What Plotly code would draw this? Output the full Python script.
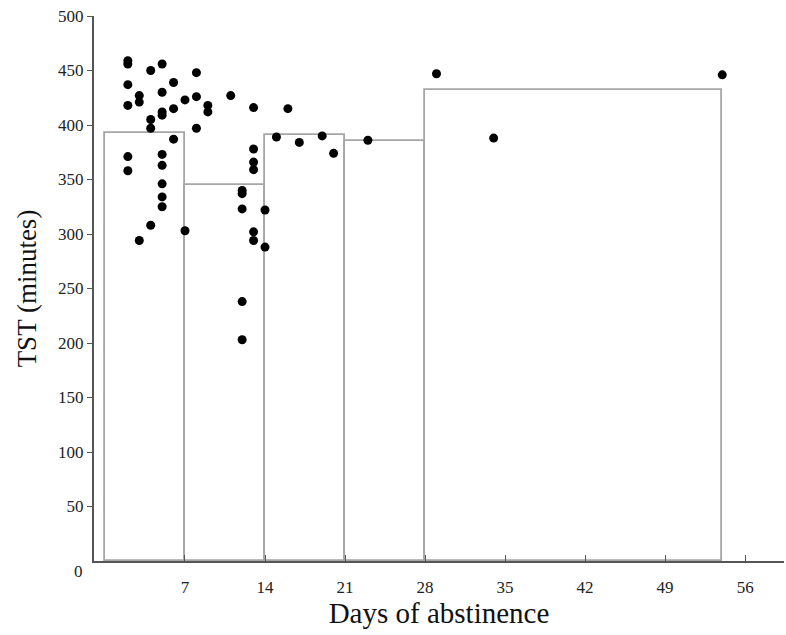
import plotly.graph_objects as go

# Scatter data: days of abstinence vs total sleep time (minutes)
days = [2, 2, 2, 2, 2, 2,
        3, 3, 3,
        4, 4, 4, 4,
        5, 5, 5, 5, 5, 5, 5, 5, 5,
        6, 6, 6,
        7, 7,
        8, 8, 8,
        9, 9,
        11,
        12, 12, 12, 12, 12,
        13, 13, 13, 13, 13, 13,
        14, 14,
        15, 16, 17, 19, 20, 23,
        29, 34, 54]
tst = [459, 456, 437, 418, 371, 358,
       427, 421, 294,
       450, 405, 397, 308,
       456, 430, 412, 409, 373, 363, 346, 334, 325,
       439, 415, 387,
       423, 303,
       448, 426, 397,
       418, 412,
       427,
       340, 337, 323, 238, 203,
       416, 378, 366, 359, 302, 294,
       322, 288,
       389, 415, 384, 390, 374, 386,
       447, 388, 446]

# Bin means (boxes)
bin_start = [0, 7, 14, 21, 28]
bin_end = [7, 14, 21, 28, 54]
bin_mean = [393, 345, 391, 385, 432]

x_ticks = [7, 14, 21, 28, 35, 42, 49, 56]
y_ticks = [50, 100, 150, 200, 250, 300, 350, 400, 450, 500]

centers = [(a + b) / 2 for a, b in zip(bin_start, bin_end)]
widths = [b - a for a, b in zip(bin_start, bin_end)]

font_family = "Liberation Serif, DejaVu Serif, serif"

fig = go.Figure()
fig.add_trace(go.Bar(
    x=centers, y=bin_mean, width=widths,
    marker=dict(color="white", line=dict(color="#a6a6a6", width=1.8)),
    hoverinfo="skip", showlegend=False,
))
fig.add_trace(go.Scatter(
    x=days, y=tst, mode="markers",
    marker=dict(color="black", size=9),
    showlegend=False,
))

fig.update_layout(
    width=786, height=635,
    margin=dict(l=94, r=2, t=16, b=74),
    plot_bgcolor="white", paper_bgcolor="white",
    font=dict(family=font_family, color="#222222"),
    bargap=0,
)
fig.update_xaxes(
    range=[-0.96, 59.4], automargin=False,
    tickmode="array", tickvals=x_ticks, ticktext=[str(v) for v in x_ticks],
    ticks="inside", ticklen=6, tickwidth=1, tickcolor="#555555",
    ticklabelstandoff=10,
    showline=True, linecolor="#555555", linewidth=2,
    showgrid=False, zeroline=False,
    tickfont=dict(size=17, family=font_family, color="#222222"),
    title=dict(text="Days of abstinence", standoff=6,
               font=dict(size=29, family=font_family, color="#111111")),
)
fig.update_yaxes(
    range=[0, 500], automargin=False,
    tickmode="array", tickvals=y_ticks, ticktext=[str(v) for v in y_ticks],
    ticks="outside", ticklen=5, tickwidth=1, tickcolor="#555555",
    showline=True, linecolor="#555555", linewidth=2,
    showgrid=False, zeroline=False,
    tickfont=dict(size=17, family=font_family, color="#222222"),
    title=dict(text="TST (minutes)", standoff=14,
               font=dict(size=27, family=font_family, color="#111111")),
)
fig.add_annotation(
    text="0", xref="paper", yref="y", x=0, y=0,
    xanchor="right", yanchor="middle", xshift=-9, yshift=-10,
    showarrow=False, font=dict(size=17, family=font_family, color="#222222"),
)

fig.write_html(
    "out.html",
    config={"displayModeBar": False},
    post_script="document.body.style.margin='0px';document.body.style.overflow='hidden';",
)
